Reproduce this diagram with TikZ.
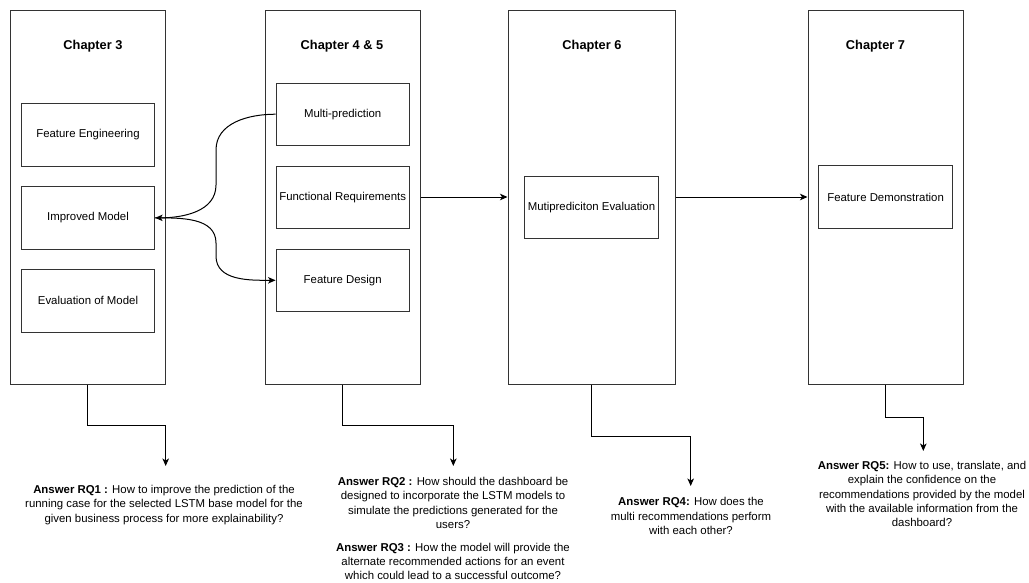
\documentclass[tikz,border=0pt]{standalone}
\usepackage{fontspec}
\setmainfont{Liberation Sans}
\usetikzlibrary{arrows.meta}
\begin{document}
\begin{tikzpicture}[x=1pt,y=-1pt,
  chapter/.style={draw=black!80, line width=1pt, minimum height=374pt, inner sep=0pt},
  task/.style={draw=black!80, line width=1pt, minimum width=133.3pt, minimum height=62.3pt,
    inner sep=0pt, font=\fontsize{11.4}{14.3}\selectfont},
  title/.style={font=\bfseries\fontsize{12.8}{15}\selectfont, inner sep=0pt},
  answer/.style={anchor=north, inner sep=0pt, align=center,
    font=\fontsize{11.4}{14.3}\selectfont},
  conn/.style={draw=black, line width=1pt, -{Stealth[length=7.5pt,width=6.5pt,inset=2pt]}}
]
\useasboundingbox (0,0) rectangle (1029,582);

% chapter columns
\node[chapter, minimum width=155.7pt] (c3) at (87.85,197) {};
\node[chapter, minimum width=155pt]   (c4) at (342.5,197) {};
\node[chapter, minimum width=167pt]   (c6) at (591.5,197) {};
\node[chapter, minimum width=155pt]   (c7) at (885.5,197) {};

% chapter titles
\node[title] (t3) at (93,46)    {Chapter 3};
\node[title] (t4) at (342,46)   {Chapter 4 \& 5};
\node[title] (t6) at (592,46)   {Chapter 6};
\node[title] (t7) at (875.5,46) {Chapter 7};

% work packages inside the chapters
\node[task] (fe) at (88,134.85)  {Feature Engineering};
\node[task] (im) at (88,217.85)  {Improved Model};
\node[task] (em) at (88,300.85)  {Evaluation of Model};
\node[task] (mp) at (342.7,114.2) {Multi-prediction};
\node[task] (fr) at (342.7,197.3) {Functional Requirements};
\node[task] (fd) at (342.7,280.3) {Feature Design};
\node[task] (me) at (591.5,207.2) {Mutiprediciton Evaluation};
\node[task] (fdm) at (885.6,197)  {Feature Demonstration};

% links between the work packages: S-curves along a common column
\coordinate (v1a) at (216,150);
\coordinate (v1b) at (216,185);
\coordinate (v2a) at (216,243);
\coordinate (v2b) at (216,256);
\draw[conn] (mp.west) to[out=180,in=90] (v1a) -- (v1b) to[out=270,in=0] (im.east);
\draw[conn] (im.east) to[out=0,in=90] (v2a) -- (v2b) to[out=270,in=180] (fd.west);

% flow between the chapters
\draw[conn] (c4.east) -- (c6.west);
\draw[conn] (c6.east) -- (c7.west);

% research questions answered by each chapter
\coordinate (a1) at (165.7,466);
\coordinate (a2) at (453.3,466);
\coordinate (a4) at (690.7,486);
\coordinate (a5) at (923.3,451);

\draw[conn] (c3.south) -- ++(0,41)   -| (a1);
\draw[conn] (c4.south) -- ++(0,41)   -| (a2);
\draw[conn] (c6.south) -- ++(0,52)   -| (a4);
\draw[conn] (c7.south) -- ++(0,32.7) -| (a5);

\node[answer] (rq1) at (164,485) {\textbf{Answer RQ1 :} How to improve the prediction of the\\
running case for the selected LSTM base model for the\\
given business process for more explainability?};

\node[answer] (rq23) at (453,477) {\textbf{Answer RQ2 :} How should the dashboard be\\
designed to incorporate the LSTM models to\\
simulate the predictions generated for the\\
users?\\[8.7pt]
\textbf{Answer RQ3 :} How the model will provide the\\
alternate recommended actions for an event\\
which could lead to a successful outcome?};

\node[answer] (rq4) at (691,497.5) {\textbf{Answer RQ4:} How does the\\
multi recommendations perform\\
with each other?};

\node[answer] (rq5) at (922,461) {\textbf{Answer RQ5:} How to use, translate, and\\
explain the confidence on the\\
recommendations provided by the model\\
with the available information from the\\
dashboard?};
\end{tikzpicture}
\end{document}
